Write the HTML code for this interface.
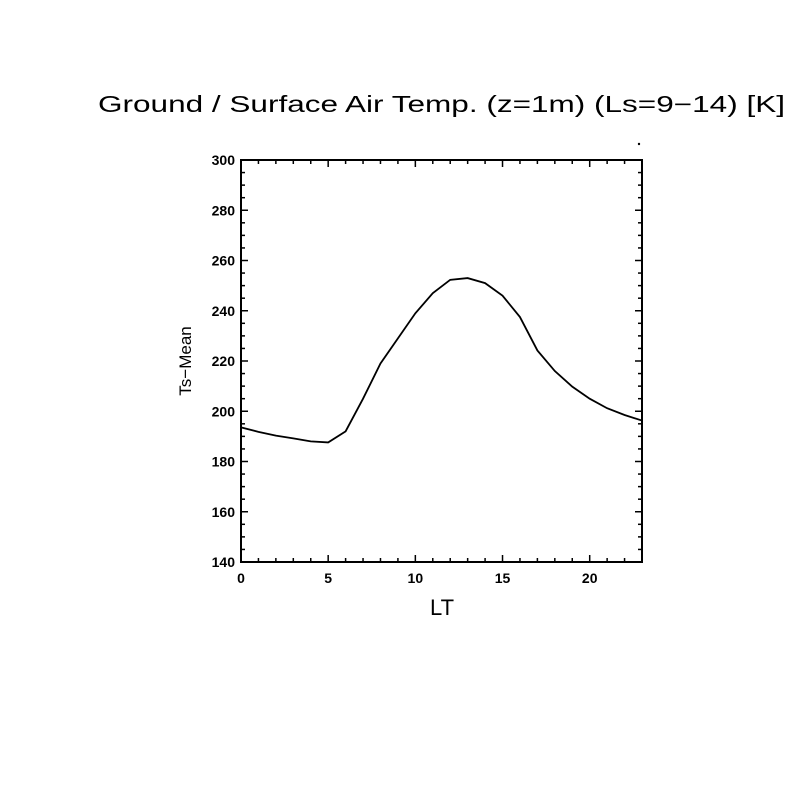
<!DOCTYPE html>
<html><head><meta charset="utf-8"><style>
body{margin:0;background:#fff}
svg{display:block;font-family:"Liberation Sans",sans-serif}
</style></head><body>
<svg id="chart" width="804" height="804" viewBox="0 0 804 804">
<rect width="804" height="804" fill="#fff"/>
<text x="98" y="112" font-size="23" textLength="687" lengthAdjust="spacingAndGlyphs">Ground / Surface Air Temp. (z=1m) (Ls=9−14) [K]</text>
<circle cx="639" cy="144" r="1.2" fill="#000"/>
<g id="axes"></g>
<text x="442" y="615" font-size="22" text-anchor="middle">LT</text>
<text transform="translate(191,361) rotate(-90)" font-size="17" text-anchor="middle">Ts−Mean</text>
</svg>
<script>
const hours=[0,1,2,3,4,5,6,7,8,9,10,11,12,13,14,15,16,17,18,19,20,21,22,23];
const tsMean=[193.6,191.8,190.3,189.2,188,187.6,192,205,219,229,239,247,252.3,253,251,246,237.5,224.2,216,209.8,205,201.2,198.5,196.3];
const xTicks=[0,5,10,15,20];
const yTicks=[140,160,180,200,220,240,260,280,300];
const L=241,R=642,T=160,B=562,xMin=0,xMax=23,yMin=140,yMax=300;
const sx=v=>L+(v-xMin)/(xMax-xMin)*(R-L);
const sy=v=>B-(v-yMin)/(yMax-yMin)*(B-T);
const NS="http://www.w3.org/2000/svg";
const g=document.getElementById('axes');
function mk(t,a){const e=document.createElementNS(NS,t);for(const k in a)e.setAttribute(k,a[k]);g.appendChild(e);return e;}
const frame=mk('rect',{x:L,y:T,width:R-L,height:B-T,fill:'none',stroke:'#000','stroke-width':2});


for(let h=xMin;h<=xMax;h++){const maj=h%5===0,len=maj?7:4;
 const t1=mk('line',{x1:sx(h),x2:sx(h),y1:B,y2:B-len,stroke:'#000','stroke-width':1.5});
 
 
 const t2=mk('line',{x1:sx(h),x2:sx(h),y1:T,y2:T+len,stroke:'#000','stroke-width':1.5});
 
 }
for(let v=yMin;v<=yMax;v+=5){const maj=v%20===0,len=maj?7:4;
 const t1=mk('line',{x1:L,x2:L+len,y1:sy(v),y2:sy(v),stroke:'#000','stroke-width':1.5});
 
 
 const t2=mk('line',{x1:R,x2:R-len,y1:sy(v),y2:sy(v),stroke:'#000','stroke-width':1.5});
 
 }
xTicks.forEach(v=>{const t=mk('text',{x:sx(v),y:B+21,'font-size':14,'font-weight':'bold','text-anchor':'middle'});t.textContent=v;
 
 });
yTicks.forEach(v=>{const t=mk('text',{x:L-6,y:sy(v)+5,'font-size':14,'font-weight':'bold','text-anchor':'end'});t.textContent=v;
 
 });
const line=mk('polyline',{points:hours.map((h,i)=>sx(h)+','+sy(tsMean[i])).join(' '),fill:'none',stroke:'#000','stroke-width':1.8});


</script>
</body></html>
